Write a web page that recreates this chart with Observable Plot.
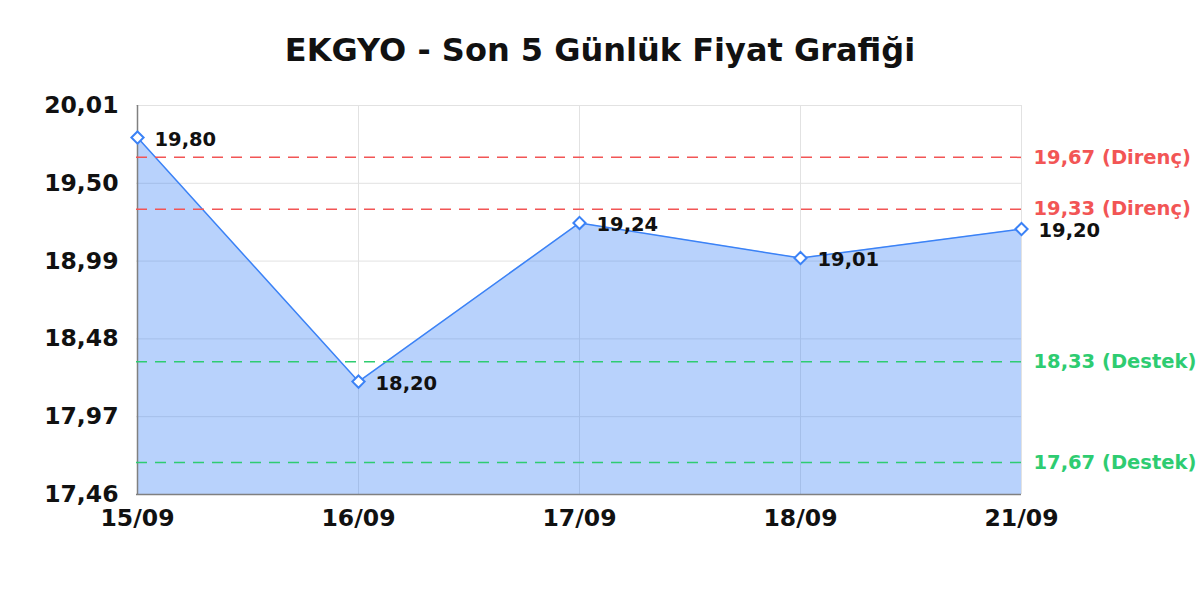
<!DOCTYPE html>
<html>
<head>
<meta charset="utf-8">
<script src="https://cdn.jsdelivr.net/npm/d3@7"></script>
<script src="https://cdn.jsdelivr.net/npm/@observablehq/plot@0.6"></script>
<style>
  html, body { margin: 0; padding: 0; background: #fff; }
  #wrap { position: relative; width: 1200px; height: 600px; font-family: "DejaVu Sans", sans-serif; }
  #title { position: absolute; top: 34px; left: 0; width: 1200px; text-align: center; font-size: 32px; line-height: 32px; font-weight: bold; color: #111; }
  #chart { position: absolute; top: 0; left: 0; }
</style>
</head>
<body>
<div id="wrap">
  <div id="chart"></div>
  <div id="title">EKGYO - Son 5 Günlük Fiyat Grafiği</div>
</div>
<script>
const dates = ["15/09", "16/09", "17/09", "18/09", "21/09"];
const prices = [19.80, 18.20, 19.24, 19.01, 19.20];
const resistance = [19.67, 19.33];
const support = [18.33, 17.67];
const yTicks = [17.46, 17.97, 18.48, 18.99, 19.50, 20.01];

const fmt = v => v.toFixed(2).replace(".", ",");
const data = dates.map((d, i) => ({date: d, price: prices[i]}));
const levels = [
  ...resistance.map(v => ({value: v, label: fmt(v) + " (Direnç)", color: "#f25555"})),
  ...support.map(v => ({value: v, label: fmt(v) + " (Destek)", color: "#2ecc71"}))
];
const yMin = yTicks[0], yMax = yTicks[yTicks.length - 1];
const blue = "#3b82f6";

const chart = Plot.plot({
  width: 1200,
  height: 600,
  marginTop: 105,
  marginBottom: 106,
  marginLeft: 136,
  marginRight: 179,
  style: {fontFamily: "DejaVu Sans", fontWeight: "bold", color: "#111", background: "transparent", overflow: "visible"},
  x: {type: "point", domain: dates, padding: 0},
  y: {domain: [yMin, yMax]},
  marks: [
    Plot.gridX(dates, {stroke: "#e2e2e2", strokeOpacity: 1, strokeWidth: 1}),
    Plot.gridY(yTicks, {stroke: "#e2e2e2", strokeOpacity: 1, strokeWidth: 1}),
    Plot.areaY(data, {x: "date", y1: yMin, y2: "price", fill: blue, fillOpacity: 0.36}),
    Plot.lineY(data, {x: "date", y: "price", stroke: blue, strokeWidth: 1.5}),
    Plot.ruleY([yMin], {stroke: "#808080", strokeWidth: 1.5}),
    Plot.ruleX([dates[0]], {stroke: "#808080", strokeWidth: 1.5}),
    Plot.ruleY(levels, {y: "value", stroke: "color", strokeWidth: 1.5, strokeDasharray: "11,8"}),
    Plot.text(levels, {y: "value", text: "label", fill: "color", frameAnchor: "right", textAnchor: "start", dx: 12, fontSize: 19.5, fontWeight: "bold"}),
    Plot.dot(data, {x: "date", y: "price", symbol: "diamond2", r: 5.5, stroke: blue, strokeWidth: 2, fill: "white"}),
    Plot.text(data, {x: "date", y: "price", text: d => fmt(d.price), textAnchor: "start", dx: 17, dy: 2, fontSize: 19.5, fontWeight: "bold", fill: "#111"}),
    Plot.axisY({ticks: yTicks, tickFormat: fmt, tickSize: 0, tickPadding: 18, fontSize: 23.5, fontWeight: "bold", label: null}),
    Plot.axisX({tickSize: 0, tickPadding: 15, fontSize: 23.5, fontWeight: "bold", label: null})
  ]
});
document.getElementById("chart").appendChild(chart);
</script>
</body>
</html>
